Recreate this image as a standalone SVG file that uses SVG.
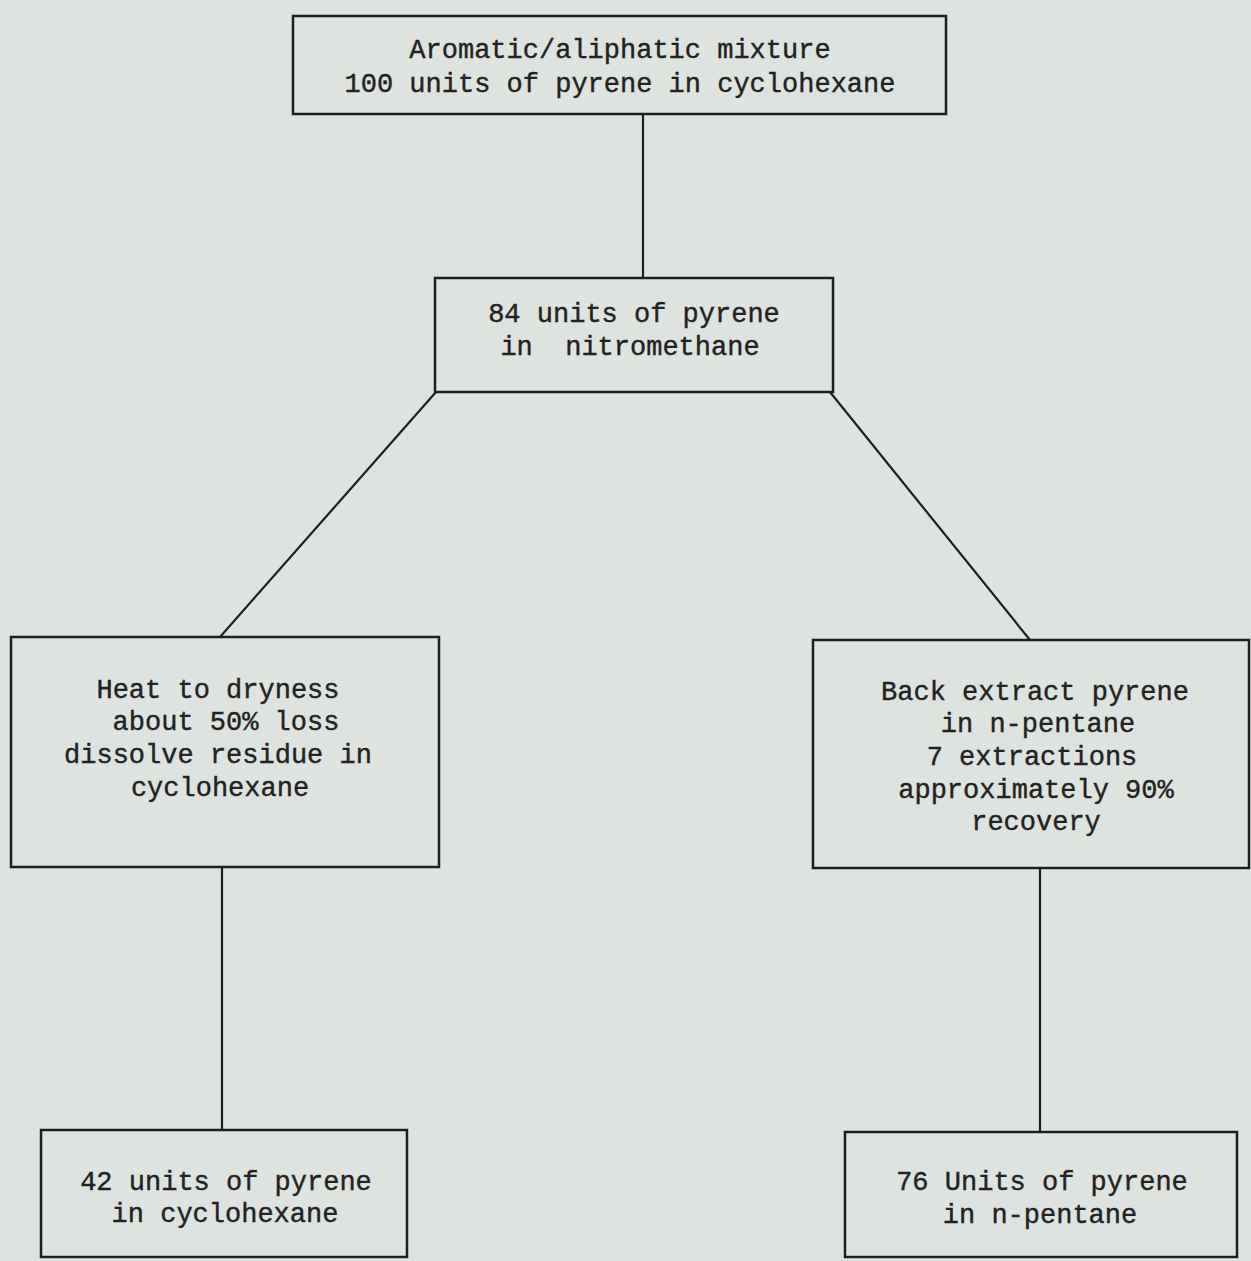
<svg xmlns="http://www.w3.org/2000/svg" width="1251" height="1261" viewBox="0 0 1251 1261">
<style>
.bg{fill:#dfe3df}
.box{fill:#dfe3df;stroke:#1e1e1e;stroke-width:2.5}
.ln{stroke:#1e1e1e;stroke-width:2.2;fill:none}
text{font-family:"Liberation Mono","Courier New",monospace;font-size:27px;fill:#222;stroke:#222;stroke-width:0.4;text-anchor:middle;white-space:pre}
</style>
<rect class="bg" x="0" y="0" width="1251" height="1261"/>
<g id="connectors">
<line class="ln" x1="643" y1="115" x2="643" y2="278"/>
<line class="ln" x1="436" y1="392" x2="220" y2="637"/>
<line class="ln" x1="830" y1="392" x2="1030" y2="640"/>
<line class="ln" x1="222" y1="867" x2="222" y2="1130"/>
<line class="ln" x1="1040" y1="868" x2="1040" y2="1132"/>
</g>
<g id="n1">
<rect class="box" x="293" y="16" width="653" height="98"/>
<text x="620" y="58">Aromatic/aliphatic mixture</text>
<text x="620" y="92">100 units of pyrene in cyclohexane</text>
</g>
<g id="n2">
<rect class="box" x="435" y="278" width="398" height="114"/>
<text x="634" y="322">84 units of pyrene</text>
<text x="630" y="355">in  nitromethane</text>
</g>
<g id="n3">
<rect class="box" x="11" y="637" width="428" height="230"/>
<text x="218" y="698">Heat to dryness</text>
<text x="226" y="730">about 50% loss</text>
<text x="218" y="763">dissolve residue in</text>
<text x="220" y="796">cyclohexane</text>
</g>
<g id="n4">
<rect class="box" x="813" y="640" width="436" height="228"/>
<text x="1035" y="700">Back extract pyrene</text>
<text x="1038" y="732">in n-pentane</text>
<text x="1032" y="765">7 extractions</text>
<text x="1036" y="798">approximately 90%</text>
<text x="1036" y="830">recovery</text>
</g>
<g id="n5">
<rect class="box" x="41" y="1130" width="366" height="127"/>
<text x="226" y="1190">42 units of pyrene</text>
<text x="225" y="1222">in cyclohexane</text>
</g>
<g id="n6">
<rect class="box" x="845" y="1132" width="392" height="125"/>
<text x="1042" y="1190">76 Units of pyrene</text>
<text x="1040" y="1223">in n-pentane</text>
</g>
</svg>
